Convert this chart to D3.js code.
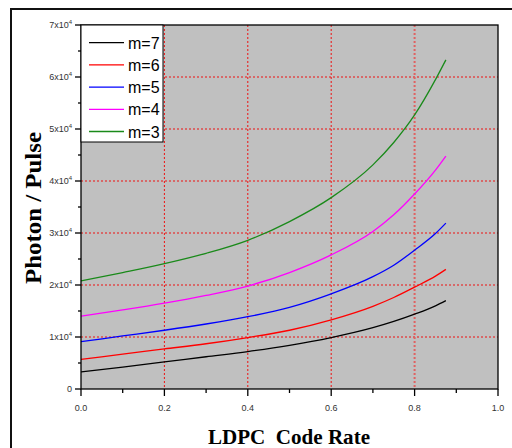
<!DOCTYPE html>
<html>
<head>
<meta charset="utf-8">
<script src="https://cdn.jsdelivr.net/npm/d3@7"></script>
<style>
  body { margin: 0; background: #fff; }
  svg { display: block; }
</style>
</head>
<body>
<svg id="chart" width="512" height="448"></svg>
<script>
// code rate samples and photon counts (x10^4)
const rates = [0, 0.1, 0.2, 0.3, 0.4, 0.5, 0.6, 0.7, 0.75, 0.8, 0.85, 0.875];
const m7 = [0.33, 0.42, 0.52, 0.62, 0.72, 0.84, 0.99, 1.18, 1.30, 1.44, 1.60, 1.70];
const m6 = [0.57, 0.67, 0.77, 0.87, 0.99, 1.13, 1.33, 1.59, 1.76, 1.96, 2.17, 2.30];
const m5 = [0.91, 1.02, 1.13, 1.25, 1.39, 1.57, 1.83, 2.16, 2.38, 2.67, 2.99, 3.19];
const m4 = [1.40, 1.52, 1.65, 1.80, 1.98, 2.24, 2.58, 3.03, 3.35, 3.75, 4.21, 4.48];
const m3 = [2.08, 2.24, 2.41, 2.61, 2.86, 3.22, 3.68, 4.31, 4.74, 5.27, 5.95, 6.33];
const seriesNames = ["m=7", "m=6", "m=5", "m=4", "m=3"];
const xTicks = [0, 0.2, 0.4, 0.6, 0.8, 1.0];
const yTicks = [0, 1, 2, 3, 4, 5, 6, 7];

const seriesVals = [m7, m6, m5, m4, m3];
const colors = ["#000000", "#ff0000", "#0000ff", "#ff00ff", "#1a8a1a"];

const svg = d3.select("#chart");
const pl = 81, pr = 498, pt = 25, pb = 389;

const x = d3.scaleLinear().domain([0, 1]).range([pl, pr]);
const y = d3.scaleLinear().domain([0, 7]).range([pb, pt]);

// outer frame
svg.append("rect")
  .attr("x", 11).attr("y", 9).attr("width", 520).attr("height", 460)
  .attr("fill", "none").attr("stroke", "#111").attr("stroke-width", 2);

// plot background
svg.append("rect")
  .attr("x", pl).attr("y", pt)
  .attr("width", pr - pl).attr("height", pb - pt)
  .attr("fill", "#c0c0c0");

// grid
const grid = svg.append("g");
grid.selectAll(".hg").data([1, 2, 3, 4, 5, 6]).enter().append("line")
  .attr("x1", pl).attr("x2", pr)
  .attr("y1", d => y(d)).attr("y2", d => y(d))
  .attr("stroke", "#ee1111").attr("stroke-width", 1)
  .attr("stroke-dasharray", "2,2");
grid.selectAll(".vg").data([0.2, 0.4, 0.6, 0.8]).enter().append("line")
  .attr("x1", d => x(d)).attr("x2", d => x(d))
  .attr("y1", pt).attr("y2", pb)
  .attr("stroke", d => d === 0.8 ? "#e06262" : "#ee1111")
  .attr("stroke-width", d => d === 0.8 ? 2 : 1)
  .attr("stroke-dasharray", "2,2");

// curves
const line = d3.line()
  .x((d, i) => x(rates[i]))
  .y(d => y(d))
  .curve(d3.curveMonotoneX);

svg.selectAll(".curve").data(seriesVals).enter().append("path")
  .attr("d", d => line(d))
  .attr("fill", "none")
  .attr("stroke", (d, i) => colors[i])
  .attr("stroke-width", 1.3);

// plot border
svg.append("rect")
  .attr("x", pl).attr("y", pt)
  .attr("width", pr - pl).attr("height", pb - pt)
  .attr("fill", "none").attr("stroke", "#000").attr("stroke-width", 1.3);

// x axis
const xAxis = svg.append("g").attr("transform", `translate(0,${pb})`);
xAxis.selectAll(".mt").data(d3.range(0, 1.01, 0.1)).enter().append("line")
  .attr("x1", d => x(d)).attr("x2", d => x(d))
  .attr("y1", 0).attr("y2", (d, i) => i % 2 === 0 ? 7 : 4)
  .attr("stroke", "#000").attr("stroke-width", 1.3);
xAxis.selectAll(".xl").data(xTicks).enter().append("text")
  .attr("x", d => x(d)).attr("y", 22)
  .attr("text-anchor", "middle")
  .attr("font-family", "Liberation Sans, Arial, sans-serif")
  .attr("font-size", 9).attr("fill", "#333")
  .text(d => d.toFixed(1));

// y axis
const yAxis = svg.append("g").attr("transform", `translate(${pl},0)`);
yAxis.selectAll(".mt").data(d3.range(0, 7.01, 0.5)).enter().append("line")
  .attr("y1", d => y(d)).attr("y2", d => y(d))
  .attr("x1", 0).attr("x2", (d, i) => i % 2 === 0 ? -6 : -3)
  .attr("stroke", "#000").attr("stroke-width", 1.3);
const yl = yAxis.selectAll(".yl").data(yTicks).enter().append("text")
  .attr("x", -9).attr("y", d => y(d) + 3)
  .attr("text-anchor", "end")
  .attr("font-family", "Liberation Sans, Arial, sans-serif")
  .attr("font-size", 9).attr("fill", "#333");
yl.each(function(d) {
  const t = d3.select(this);
  if (d === 0) { t.text("0"); return; }
  t.append("tspan").text(d + "x10");
  t.append("tspan").attr("dy", -4).attr("font-size", 6).text("4");
});

// legend
const lg = svg.append("g");
lg.append("rect")
  .attr("x", pl).attr("y", pt).attr("width", 82).attr("height", 117)
  .attr("fill", "#fff").attr("stroke", "#000").attr("stroke-width", 1);
seriesNames.forEach((name, i) => {
  const yy = 42.7 + i * 22.2;
  lg.append("line")
    .attr("x1", 89).attr("x2", 124).attr("y1", yy).attr("y2", yy)
    .attr("stroke", colors[i]).attr("stroke-width", 1.3);
  lg.append("text")
    .attr("x", 128).attr("y", yy + 6)
    .attr("font-family", "Liberation Sans, Arial, sans-serif")
    .attr("font-size", 16).attr("fill", "#000")
    .text(name);
});

// axis titles
svg.append("text")
  .attr("transform", `translate(41,208) rotate(-90)`)
  .attr("text-anchor", "middle")
  .attr("font-family", "Liberation Serif, Times New Roman, serif")
  .attr("font-weight", "bold").attr("font-size", 23)
  .attr("textLength", 152).attr("lengthAdjust", "spacingAndGlyphs")
  .text("Photon / Pulse");
svg.append("text")
  .attr("x", 289).attr("y", 444)
  .attr("text-anchor", "middle")
  .attr("font-family", "Liberation Serif, Times New Roman, serif")
  .attr("font-weight", "bold").attr("font-size", 21)
  .attr("textLength", 162).attr("lengthAdjust", "spacingAndGlyphs")
  .attr("xml:space", "preserve")
  .text("LDPC  Code Rate");
</script>
</body>
</html>
